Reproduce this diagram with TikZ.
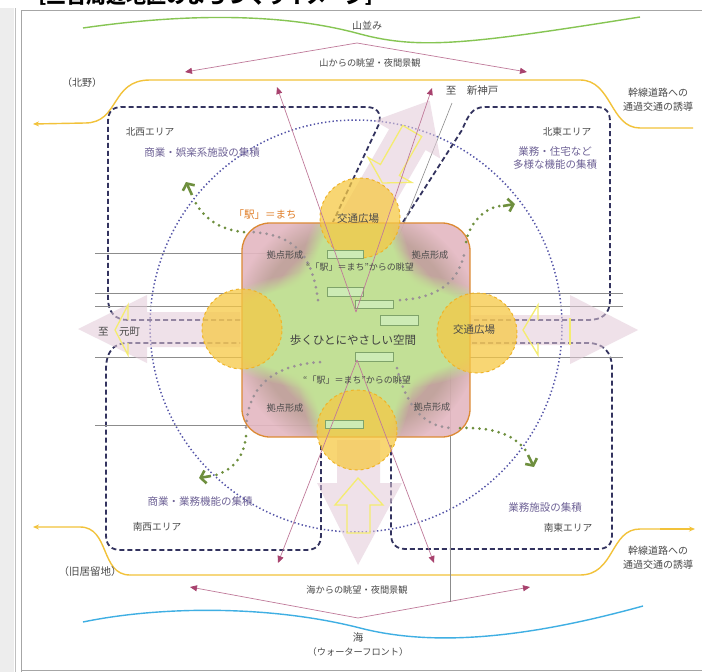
\documentclass[tikz,border=0pt]{standalone}
\usepackage{fontspec}
\setmainfont{Noto Sans CJK JP}
\usetikzlibrary{arrows.meta,fadings}
\definecolor{navy}{HTML}{33335F}
\definecolor{dotblue}{HTML}{5555A8}
\definecolor{roadyellow}{HTML}{F2C23A}
\definecolor{mtgreen}{HTML}{86C553}
\definecolor{seablue}{HTML}{3FAFE3}
\definecolor{viewpink}{HTML}{C07A9A}
\definecolor{viewdark}{HTML}{A8426E}
\definecolor{railgray}{HTML}{8C8C8C}
\definecolor{rectfill}{HTML}{CDEBB5}
\definecolor{rectborder}{HTML}{7FA36A}
\definecolor{plazafill}{HTML}{F6C945}
\definecolor{plazaborder}{HTML}{F0B428}
\definecolor{walkgreen}{HTML}{6E8F3E}
\definecolor{walkgray}{HTML}{9A9096}
\definecolor{boxpink}{HTML}{E4B8C2}
\definecolor{boxbrown}{HTML}{B49A8E}
\definecolor{boxgreen}{HTML}{C2E096}
\definecolor{boxorange}{HTML}{DC8A34}
\definecolor{widepink}{HTML}{E2CAD8}
\definecolor{outyellow}{HTML}{F4EC70}
\definecolor{textgray}{HTML}{4A4A4A}
\definecolor{descpurple}{HTML}{6E6296}
\definecolor{ekiorange}{HTML}{E07E28}
\tikzset{
  region/.style={draw=navy, line width=1.8pt, dash pattern=on 5pt off 3pt},
  road/.style={draw=roadyellow, line width=1.4pt},
  roadend/.style={road, -{Stealth[length=6pt,width=5pt]}},
  viewline/.style={draw=viewpink, line width=0.7pt, -{Triangle[length=7pt,width=6pt,color=viewdark]}},
  rail/.style={draw=railgray, line width=0.6pt},
  greenrect/.style={draw=rectborder, fill=rectfill, line width=0.5pt},
  plaza/.style={fill=plazafill, fill opacity=0.75, draw=plazaborder, dashed, line width=1pt},
  walkdots/.style={draw=walkgreen, line width=3pt, line cap=round, dash pattern=on 0pt off 6.5pt},
  walkdotsin/.style={walkdots, draw=walkgray},
  walkhead/.style={draw=walkgreen, line width=2.6pt, -{Straight Barb[length=5pt,width=13pt]}},
  widearrow/.style={fill=widepink, fill opacity=0.55},
  outarrow/.style={draw=outyellow, line width=1.3pt, line join=miter},
  lbl/.style={font=\fontsize{10}{14}\selectfont, text=textgray, inner sep=0pt, align=center},
  area/.style={lbl, font=\fontsize{9.7}{12}\selectfont},
  small/.style={lbl, font=\fontsize{9.2}{11}\selectfont},
  desc/.style={lbl, font=\fontsize{10.5}{13.5}\selectfont, text=descpurple},
}
\begin{document}
\begin{tikzpicture}[x=1pt,y=-1pt]
\useasboundingbox (0,0) rectangle (702,672);
% frame
\fill[white] (0,0) rectangle (702,672);
\fill[black!7] (0,8) rectangle (14,672);
\draw[black!25, line width=1pt] (15,8) -- (15,672);
\draw[black!35, line width=1pt] (21,672) -- (21,10) -- (702,10);
\draw[black!35, line width=1pt] (21,670) -- (702,670);
\node[anchor=base west, font=\bfseries\fontsize{20}{20}\selectfont, inner sep=0pt] (title) at (26,3) {［三宮周辺地区のまちづくりイメージ］};

% mountains and sea
\draw[draw=mtgreen, line width=1.4pt] (83,28) .. controls (180,14) and (280,12) .. (360,34) .. controls (420,50) and (470,44) .. (640,17);
\draw[draw=seablue, line width=1.4pt] (83,622) .. controls (160,606) and (270,605) .. (360,628) .. controls (430,646) and (520,640) .. (643,606);

% view lines from mountain / sea
\coordinate (mtApex) at (357,43);
\coordinate (mtL) at (185,72);
\coordinate (mtR) at (527,72);
\draw[viewline] (mtApex) -- (mtL);
\draw[viewline] (mtApex) -- (mtR);
\coordinate (seaApex) at (358,618);
\coordinate (seaL) at (190,587);
\coordinate (seaR) at (530,587);
\draw[viewline] (seaApex) -- (seaL);
\draw[viewline] (seaApex) -- (seaR);

% roads
\coordinate (roadNL) at (33,124);
\coordinate (roadNR) at (695,128);
\coordinate (roadSL) at (33,527);
\coordinate (roadSR) at (695,529);
\draw[roadend] (693,128) -- (640,128) .. controls (610,128) and (612,80) .. (580,80) -- (150,80) .. controls (110,80) and (120,123) .. (85,123) -- (roadNL);
\draw[road] (130,575) -- (580,575) .. controls (615,575) and (610,529) .. (640,529) -- (660,529);
\draw[roadend] (660,529) -- (roadSR);
\draw[roadend] (130,575) .. controls (100,575) and (110,527) .. (80,527) -- (roadSL);

% dotted circle
\draw[draw=dotblue, line width=1.5pt, dash pattern=on 1.4pt off 2.4pt] (356,326) circle [radius=206pt];

% area borders
\draw[region] (240,320) -- (128,320) .. controls (115,320) and (108,312) .. (108,298) -- (108,122) .. controls (108,112) and (112,107) .. (122,107) -- (366,107) .. controls (376,107) and (382,112) .. (379,124) -- (333,222);
\draw[region] (403,222) -- (462,130) .. controls (468,116) and (472,107) .. (485,107) -- (596,107) .. controls (606,107) and (610,112) .. (610,122) -- (610,300) .. controls (610,314) and (602,320) .. (588,320) -- (472,320);
\draw[region] (472,343) -- (588,343) .. controls (603,343) and (612,352) .. (612,368) -- (612,535) .. controls (612,545) and (607,549) .. (597,549) -- (406,549) .. controls (396,549) and (391,544) .. (391,534) -- (391,445);
\draw[region] (321,445) -- (321,535) .. controls (321,545) and (316,550) .. (306,550) -- (121,550) .. controls (111,550) and (106,545) .. (106,535) -- (106,370) .. controls (106,352) and (113,343) .. (128,343) -- (240,343);

% rail lines
\draw[rail] (95,253) -- (327,253);
\draw[rail] (95,293) -- (623,293);
\draw[rail] (95,306) -- (623,306);
\draw[rail] (95,357) -- (623,357);
\draw[rail] (95,425) -- (325,425);
\draw[rail] (418,320) -- (450,320) -- (450,602);
\draw[rail] (452,103) -- (372,304);

% wide pink arrows
\fill[widearrow] (240,312) -- (147,312) -- (147,295) -- (78,329) -- (147,363) -- (147,347) -- (240,347) -- cycle;
\fill[widearrow] (470,315) -- (570,315) -- (570,295) -- (638,330) -- (570,364) -- (570,345) -- (470,345) -- cycle;
\fill[widearrow] (337,440) -- (337,483) -- (317,483) -- (358,565) -- (402,483) -- (380,483) -- (380,440) -- cycle;
\fill[widearrow] (341.8,211.6) -- (389.1,129.2) -- (374.4,120.7) -- (429.7,100.6) -- (440.2,158.5) -- (425.5,150.0) -- (378.2,232.4) -- cycle;

% yellow outline arrows
\draw[outarrow] (128,320) -- (128,305) -- (115,330) -- (128,355) -- (128,343);
\draw[outarrow] (538,320) -- (538,305) -- (523,330) -- (538,355) -- (538,343);
\draw[outarrow] (570,318) -- (570,345);
\draw[outarrow] (358,478) -- (383,505) -- (370,505) -- (370,533) -- (347,533) -- (347,505) -- (335,505) -- cycle;
\draw[outarrow] (382.4,183) -- (411.6,182.4) -- (399.4,175.5) -- (421.7,136.5) -- (402.7,125.5) -- (380.4,164.5) -- (368.2,157.6) -- cycle;

% central box
\begin{scope}
\clip[rounded corners=28pt] (242,223) rectangle (470,437);
\fill[boxpink, opacity=0.9] (242,223) rectangle (470,437);
\fill[boxbrown, opacity=0.7, path fading=circle with fuzzy edge 20 percent] (356,330) circle [radius=125pt];
\fill[boxgreen, path fading=circle with fuzzy edge 20 percent] (356,330) ellipse [x radius=160pt, y radius=62pt];
\fill[boxgreen, path fading=circle with fuzzy edge 20 percent] (356,330) ellipse [x radius=62pt, y radius=150pt];
\fill[boxgreen, path fading=circle with fuzzy edge 20 percent] (356,330) circle [radius=92pt];
\end{scope}
\draw[draw=boxorange, line width=1.3pt, rounded corners=28pt] (242,223) rectangle (470,437);

% walking dotted arrows
\draw[walkdotsin] (318,300) .. controls (312,255) and (295,234) .. (250,232);
\draw[walkdots] (244,232) .. controls (218,230) and (202,216) .. (194,200);
\draw[walkhead] (192,195) -- (186,182);
\draw[walkdotsin] (400,300) .. controls (440,298) and (460,280) .. (465,250);
\draw[walkdots] (466,242) .. controls (470,222) and (485,208) .. (500,206);
\draw[walkhead] (503,206) -- (515,204);
\draw[walkdotsin] (320,362) .. controls (278,365) and (248,382) .. (246,428);
\draw[walkdots] (246,436) .. controls (244,458) and (232,470) .. (216,475);
\draw[walkhead] (211,476) -- (199,478);
\draw[walkdotsin] (397,368) .. controls (405,400) and (420,427) .. (452,428);
\draw[walkdots] (460,428) .. controls (492,427) and (514,434) .. (526,451);
\draw[walkhead] (528,455) -- (534,467);

% plazas
\node[plaza, circle, minimum size=80pt, inner sep=0pt] (plazaT) at (360,218) {};
\node[plaza, circle, minimum size=80pt, inner sep=0pt] (plazaL) at (242,329) {};
\node[plaza, circle, minimum size=80pt, inner sep=0pt] (plazaR) at (477,333) {};
\node[plaza, circle, minimum size=80pt, inner sep=0pt] (plazaB) at (357,430) {};

% station rectangles
\node[greenrect, minimum width=36pt, minimum height=8pt, inner sep=0pt] (stA) at (345,254) {};
\node[greenrect, minimum width=36pt, minimum height=9pt, inner sep=0pt] (stB) at (345,292) {};
\node[greenrect, minimum width=38pt, minimum height=8pt, inner sep=0pt] (stC) at (374,304) {};
\node[greenrect, minimum width=38pt, minimum height=10pt, inner sep=0pt] (stD) at (399,320) {};
\node[greenrect, minimum width=38pt, minimum height=9pt, inner sep=0pt] (stE) at (374,357) {};
\node[greenrect, minimum width=38pt, minimum height=8pt, inner sep=0pt] (stF) at (344,424) {};

% view lines from station
\coordinate (vTop) at (356,312);
\coordinate (vBot) at (357,360);
\coordinate (vNW) at (277,87);
\coordinate (vNE) at (432,88);
\coordinate (vSW) at (278,563);
\coordinate (vSE) at (434,563);
\draw[viewline] (vTop) -- (vNW);
\draw[viewline] (vTop) -- (vNE);
\draw[viewline] (vBot) -- (vSW);
\draw[viewline] (vBot) -- (vSE);

% texts
\node[lbl] (tMt) at (367,26) {山並み};
\node[small] (tMtView) at (370,63) {山からの眺望・夜間景観};
\node[lbl] (tKitano) at (82,83) {（北野）};
\node[lbl, font=\fontsize{10.5}{12}\selectfont] (tShinkobe) at (472,91) {至　新神戸};
\node[lbl] (tRoadN) at (658,100) {幹線道路への\\通過交通の誘導};
\node[area] (tNW) at (150,132) {北西エリア};
\node[desc] (tNWd) at (202,153) {商業・娯楽系施設の集積};
\node[area] (tNE) at (567,132) {北東エリア};
\node[desc] (tNEd) at (555,158) {業務・住宅など\\多様な機能の集積};
\node[lbl, text=ekiorange, font=\fontsize{10.5}{12}\selectfont] (tEki) at (265,215) {「駅」＝まち};
\node[lbl, font=\fontsize{10.5}{12}\selectfont] (tPlazaT) at (358,219) {交通広場};
\node[lbl, font=\fontsize{10.5}{12}\selectfont] (tPlazaR) at (474,330) {交通広場};
\node[lbl, font=\fontsize{10.5}{12}\selectfont] (tMotomachi) at (119,332) {至　元町};
\node[small] (tK1) at (285,255) {拠点形成};
\node[small] (tK2) at (430,255) {拠点形成};
\node[small] (tK3) at (285,408) {拠点形成};
\node[small] (tK4) at (432,407) {拠点形成};
\node[small, font=\fontsize{9}{11}\selectfont] (tV1) at (360,267) {“「駅」＝まち”からの眺望};
\node[small, font=\fontsize{9}{11}\selectfont] (tV2) at (357,380) {“「駅」＝まち”からの眺望};
\node[lbl, font=\fontsize{11.5}{13}\selectfont, text=black!75] (tWalk) at (353,340) {歩くひとにやさしい空間};
\node[desc] (tSWd) at (200,502) {商業・業務機能の集積};
\node[area] (tSW) at (157,527) {南西エリア};
\node[desc] (tSEd) at (545,508) {業務施設の集積};
\node[area] (tSE) at (568,528) {南東エリア};
\node[lbl] (tRoadS) at (658,558) {幹線道路への\\通過交通の誘導};
\node[lbl, font=\fontsize{10.5}{12}\selectfont] (tKyo) at (90,572) {（旧居留地）};
\node[small] (tSeaView) at (357,590) {海からの眺望・夜間景観};
\node[lbl, font=\fontsize{10.5}{12}\selectfont] (tSea) at (358,637) {海};
\node[small] (tWF) at (358,652) {（ウォーターフロント）};
\end{tikzpicture}
\end{document}
